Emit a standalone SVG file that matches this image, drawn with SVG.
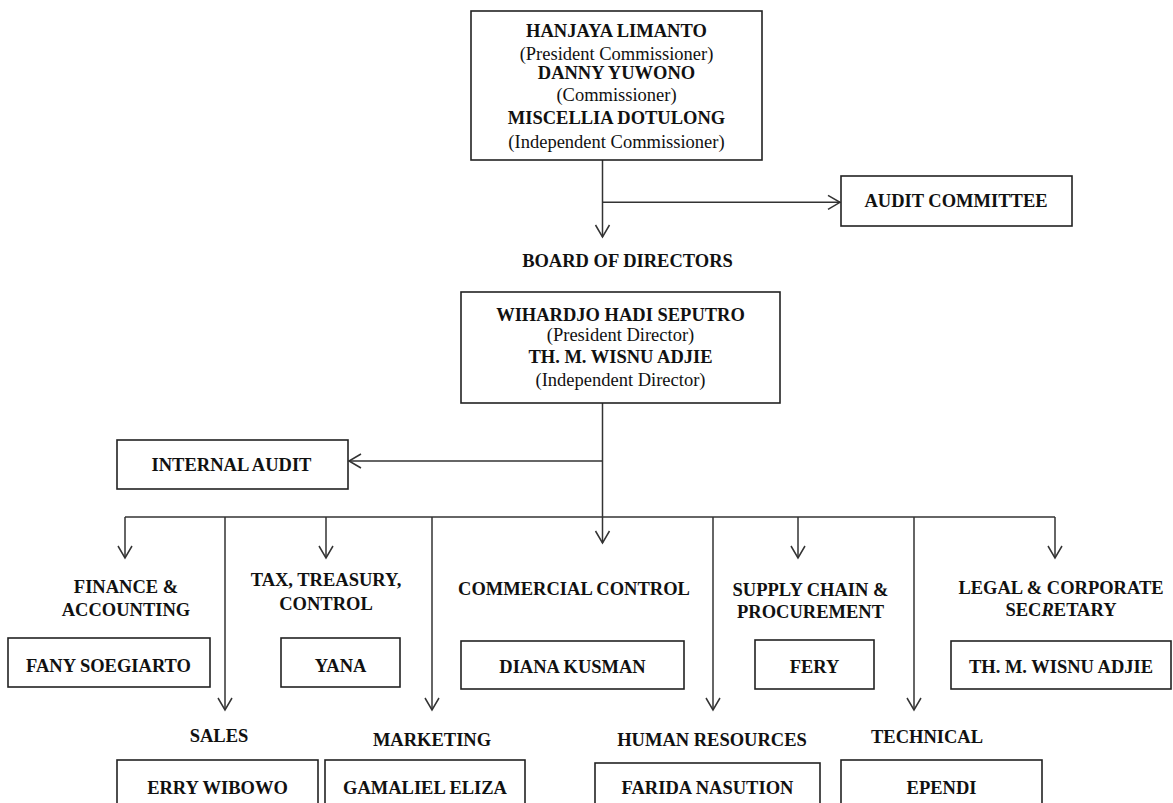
<svg xmlns="http://www.w3.org/2000/svg" width="1173" height="803" viewBox="0 0 1173 803">
<style>
 .box{fill:#fff;stroke:#222;stroke-width:1.6}
 .b{font-family:"Liberation Serif","Times New Roman",serif;font-weight:bold;font-size:18.5px;fill:#111;text-anchor:middle}
 .r{font-family:"Liberation Serif","Times New Roman",serif;font-size:18.5px;fill:#111;text-anchor:middle}
 .ln{fill:none;stroke:#333;stroke-width:1.5}
</style>
<defs>
 <marker id="ah" viewBox="-14 -10 20 20" markerWidth="20" markerHeight="20" refX="0" refY="0" orient="auto" markerUnits="userSpaceOnUse">
  <path d="M-12,-7 L0,0 L-12,7" fill="none" stroke="#333" stroke-width="1.5"/>
 </marker>
</defs>
<rect width="1173" height="803" fill="#fff"/>

<g id="connectors">
 <path class="ln" d="M602.5,160 V237" marker-end="url(#ah)"/>
 <path class="ln" d="M602.5,202.3 H840" marker-end="url(#ah)"/>
 <path class="ln" d="M602.5,403 V543" marker-end="url(#ah)"/>
 <path class="ln" d="M602.5,461 H349" marker-end="url(#ah)"/>
 <path class="ln" d="M125,517 H1055"/>
 <path class="ln" d="M125,517 V558" marker-end="url(#ah)"/>
 <path class="ln" d="M225,517 V710" marker-end="url(#ah)"/>
 <path class="ln" d="M326,517 V558" marker-end="url(#ah)"/>
 <path class="ln" d="M432,517 V710" marker-end="url(#ah)"/>
 <path class="ln" d="M713,517 V710" marker-end="url(#ah)"/>
 <path class="ln" d="M798,517 V558" marker-end="url(#ah)"/>
 <path class="ln" d="M914,517 V710" marker-end="url(#ah)"/>
 <path class="ln" d="M1055,517 V558" marker-end="url(#ah)"/>
</g>

<g id="commissioners">
 <rect class="box" x="471" y="11" width="291" height="149"/>
 <text class="b" x="616.5" y="36.7">HANJAYA LIMANTO</text>
 <text class="r" x="616.5" y="59.7">(President Commissioner)</text>
 <text class="b" x="616.5" y="79.3">DANNY YUWONO</text>
 <text class="r" x="616.5" y="101.4">(Commissioner)</text>
 <text class="b" x="616.5" y="124">MISCELLIA DOTULONG</text>
 <text class="r" x="616.5" y="148">(Independent Commissioner)</text>
</g>

<g id="audit-committee">
 <rect class="box" x="841" y="176" width="231" height="50"/>
 <text class="b" x="956" y="207">AUDIT COMMITTEE</text>
</g>

<g id="board-label">
 <text class="b" x="627.5" y="267">BOARD OF DIRECTORS</text>
</g>

<g id="directors">
 <rect class="box" x="461" y="292" width="319" height="111"/>
 <text class="b" x="620.5" y="321">WIHARDJO HADI SEPUTRO</text>
 <text class="r" x="620.5" y="340.7">(President Director)</text>
 <text class="b" x="620.5" y="363.3">TH. M. WISNU ADJIE</text>
 <text class="r" x="620.5" y="386.4">(Independent Director)</text>
</g>

<g id="internal-audit">
 <rect class="box" x="117" y="440" width="231" height="49"/>
 <text class="b" x="231.5" y="471">INTERNAL AUDIT</text>
</g>

<g id="finance">
 <text class="b" x="126" y="593">FINANCE &amp;</text>
 <text class="b" x="126" y="616">ACCOUNTING</text>
 <rect class="box" x="8" y="638" width="202" height="49"/>
 <text class="b" x="108.5" y="672">FANY SOEGIARTO</text>
</g>

<g id="tax">
 <text class="b" x="326" y="586">TAX, TREASURY,</text>
 <text class="b" x="326" y="610">CONTROL</text>
 <rect class="box" x="281" y="638" width="119" height="49"/>
 <text class="b" x="340.5" y="672">YANA</text>
</g>

<g id="commercial">
 <text class="b" x="574" y="595">COMMERCIAL CONTROL</text>
 <rect class="box" x="461" y="641" width="223" height="48"/>
 <text class="b" x="572.5" y="673">DIANA KUSMAN</text>
</g>

<g id="supply">
 <text class="b" x="810.5" y="596">SUPPLY CHAIN &amp;</text>
 <text class="b" x="810.5" y="618">PROCUREMENT</text>
 <rect class="box" x="755" y="640" width="119" height="49"/>
 <text class="b" x="814.5" y="673">FERY</text>
</g>

<g id="legal">
 <text class="b" x="1061" y="594">LEGAL &amp; CORPORATE</text>
 <text class="b" x="1061" y="616">SEC<tspan font-style="italic">R</tspan>ETARY</text>
 <rect class="box" x="951" y="641" width="220" height="48"/>
 <text class="b" x="1061" y="673">TH. M. WISNU ADJIE</text>
</g>

<g id="sales">
 <text class="b" x="219" y="742">SALES</text>
 <rect class="box" x="117" y="760" width="201" height="52"/>
 <text class="b" x="217.5" y="794">ERRY WIBOWO</text>
</g>

<g id="marketing">
 <text class="b" x="432" y="746">MARKETING</text>
 <rect class="box" x="325" y="760" width="200" height="52"/>
 <text class="b" x="425" y="794">GAMALIEL ELIZA</text>
</g>

<g id="hr">
 <text class="b" x="712" y="746">HUMAN RESOURCES</text>
 <rect class="box" x="595" y="763" width="225" height="52"/>
 <text class="b" x="707.5" y="794">FARIDA NASUTION</text>
</g>

<g id="technical">
 <text class="b" x="927" y="743">TECHNICAL</text>
 <rect class="box" x="841" y="760" width="201" height="52"/>
 <text class="b" x="941.5" y="794">EPENDI</text>
</g>
</svg>
